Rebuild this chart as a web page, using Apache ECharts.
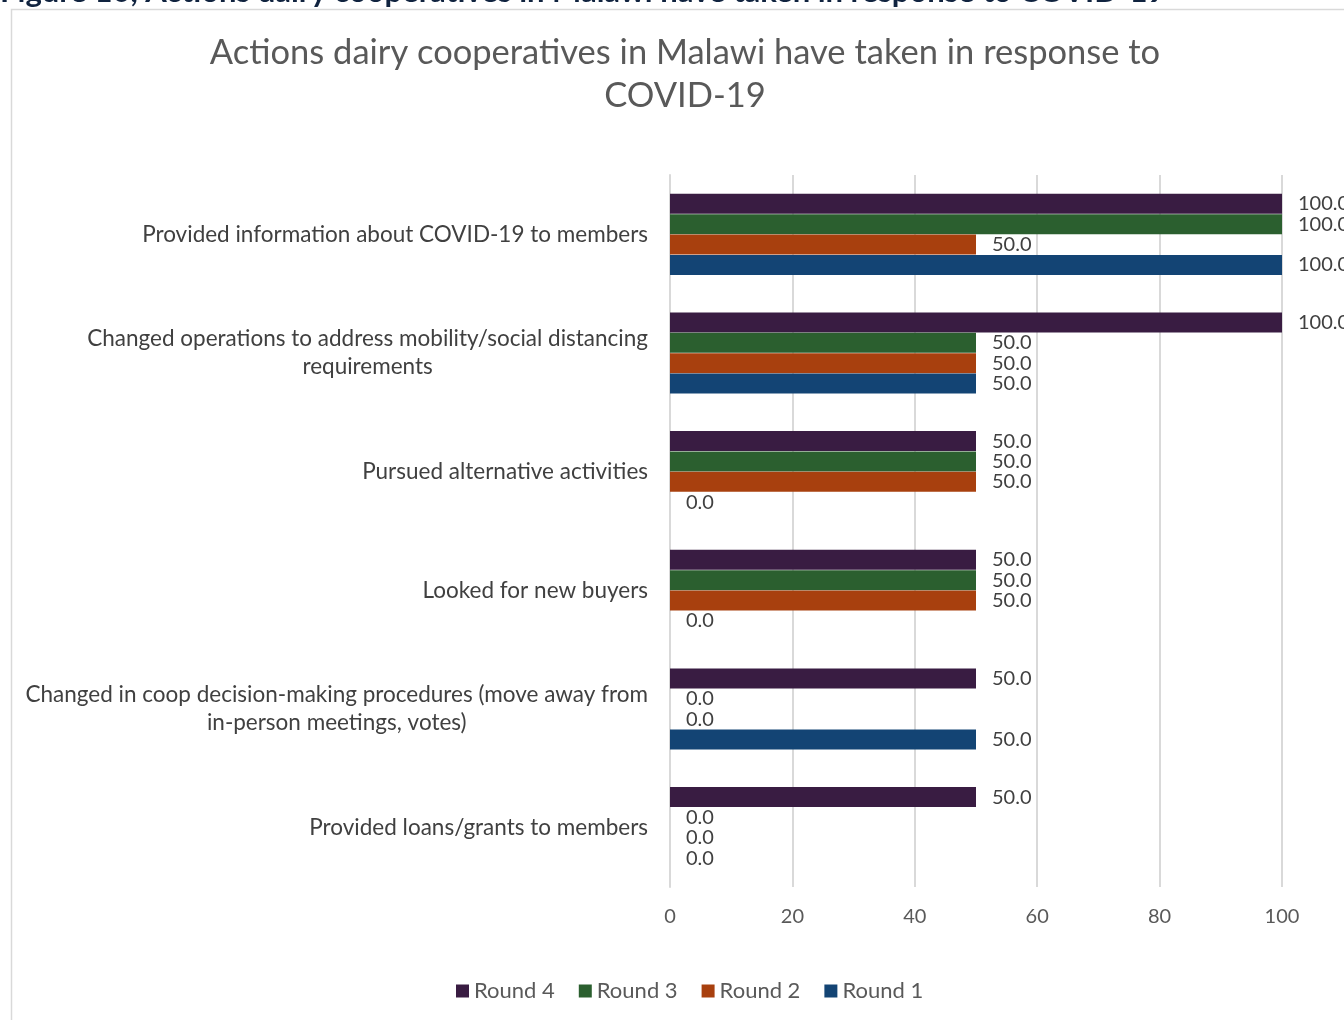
<!DOCTYPE html>
<html>
<head>
<meta charset="utf-8">
<script src="https://cdn.jsdelivr.net/npm/echarts@6/dist/echarts.min.js"></script>
<style>
  html, body { margin: 0; padding: 0; background: #ffffff; }
  #chart { width: 1344px; height: 1020px; }
</style>
</head>
<body>
<div id="chart"></div>
<script>
// Actions taken by dairy cooperatives, share of cooperatives (%) per survey round
const categories = [
  'Provided information about COVID-19 to members',
  'Changed operations to address mobility/social distancing\nrequirements',
  'Pursued alternative activities',
  'Looked for new buyers',
  'Changed in coop decision-making procedures (move away from\nin-person meetings, votes)',
  'Provided loans/grants to members'
];
const round4 = [100, 100, 50, 50, 50, 50];
const round3 = [100, 50, 50, 50, 0, 0];
const round2 = [50, 50, 50, 50, 0, 0];
const round1 = [100, 50, 0, 0, 50, 0];
const xTicks = [0, 20, 40, 60, 80, 100];

const FONT = 'Lato, "Open Sans", sans-serif';
const seriesDefs = [
  { name: 'Round 4', data: round4, color: '#391c42' },
  { name: 'Round 3', data: round3, color: '#2b5f2f' },
  { name: 'Round 2', data: round2, color: '#a8400e' },
  { name: 'Round 1', data: round1, color: '#134474' }
];

const chart = echarts.init(document.getElementById('chart'), null, { renderer: 'canvas' });

chart.setOption({
  animation: false,
  backgroundColor: '#ffffff',
  graphic: [
    {
      type: 'rect',
      shape: { x: 11.5, y: 9.5, width: 1400, height: 1100 },
      style: { fill: 'none', stroke: '#d9d9d9', lineWidth: 1.5 },
      z: -10
    },
    {
      type: 'text',
      left: 0,
      top: -24,
      style: {
        text: 'Figure 10, Actions dairy cooperatives in Malawi have taken in response to COVID-19',
        font: 'bold 31px ' + FONT,
        fill: '#10233f'
      }
    }
  ],
  title: {
    text: 'Actions dairy cooperatives in Malawi have taken in response to\nCOVID-19',
    left: 680,
    top: 26,
    textAlign: 'center',
    textStyle: {
      fontFamily: FONT,
      fontWeight: 'normal',
      fontSize: 34.5,
      lineHeight: 43,
      color: '#595959'
    }
  },
  legend: {
    data: seriesDefs.map(s => s.name),
    bottom: 13,
    left: 451,
    icon: 'rect',
    itemWidth: 13,
    itemHeight: 13,
    itemGap: 24,
    textStyle: { fontFamily: FONT, fontSize: 22, color: '#595959' }
  },
  grid: { left: 670, right: 62, top: 175, bottom: 133, containLabel: false },
  xAxis: {
    type: 'value',
    min: 0,
    max: 100,
    interval: 20,
    axisLine: { show: false },
    axisTick: { show: false },
    splitLine: { lineStyle: { color: '#d9d9d9', width: 2 } },
    axisLabel: {
      margin: 20,
      fontFamily: FONT,
      fontSize: 20,
      color: '#595959',
      formatter: v => (xTicks.includes(v) ? String(v) : '')
    }
  },
  yAxis: {
    type: 'category',
    inverse: true,
    data: categories,
    axisLine: { show: true, lineStyle: { color: '#d9d9d9', width: 2 } },
    axisTick: { show: false },
    axisLabel: {
      margin: 22,
      align: 'right',
      formatter: v => v.split('\n').map(l => '{c|' + l + '}').join('\n'),
      rich: {
        c: { align: 'center', fontFamily: FONT, fontSize: 22.5, lineHeight: 28, color: '#404040' }
      }
    }
  },
  series: seriesDefs.map(s => ({
    name: s.name,
    type: 'bar',
    data: s.data,
    barWidth: 20,
    barGap: '2%',
    itemStyle: { color: s.color },
    label: {
      show: true,
      position: 'right',
      distance: 16,
      formatter: p => p.value.toFixed(1),
      fontFamily: FONT,
      fontSize: 20,
      color: '#404040'
    }
  }))
});
</script>
</body>
</html>
